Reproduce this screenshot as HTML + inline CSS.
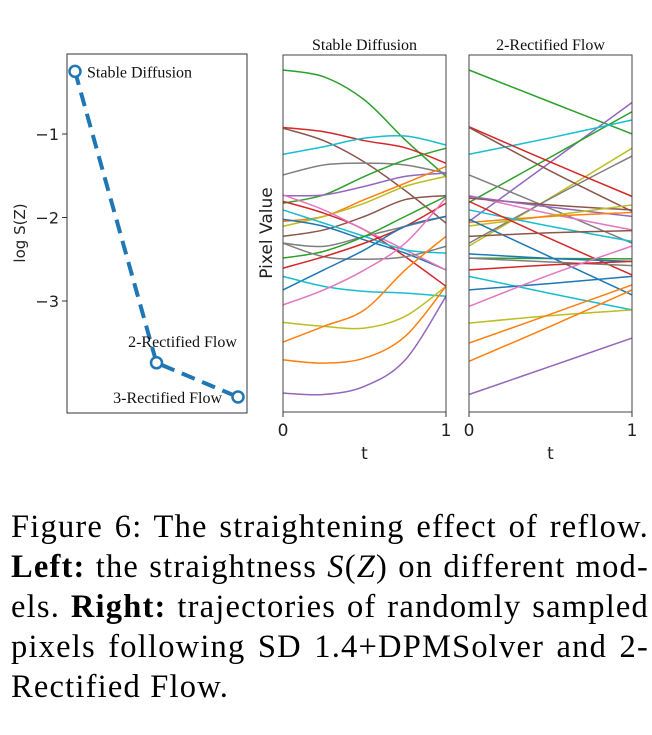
<!DOCTYPE html>
<html><head><meta charset="utf-8"><style>
body{margin:0;background:#fff;width:652px;height:735px;overflow:hidden;position:relative}
.cap{position:absolute;left:11px;width:638px;font-family:"Liberation Serif",serif;font-size:32.5px;letter-spacing:1.2px;color:#000;text-align:justify;text-align-last:justify;white-space:nowrap;line-height:40px}
.cap.last{text-align-last:left}
</style></head><body>
<svg width="652" height="480" style="position:absolute;left:0;top:0" id="fig"></svg>
<div class="cap" style="top:507px">Figure 6: The straightening effect of reflow.</div>
<div class="cap" style="top:547px"><b>Left:</b> the straightness <i>S</i>(<i>Z</i>) on different mod-</div>
<div class="cap" style="top:587px">els. <b>Right:</b> trajectories of randomly sampled</div>
<div class="cap" style="top:627px">pixels following SD 1.4+DPMSolver and 2-</div>
<div class="cap last" style="top:667px">Rectified Flow.</div>
<script>
const models=["Stable Diffusion","2-Rectified Flow","3-Rectified Flow"];
const logS=[-0.25,-3.74,-4.15];
const yTicks=[-1,-2,-3];
const tab=["#1f77b4","#ff7f0e","#2ca02c","#d62728","#9467bd","#8c564b","#e377c2","#7f7f7f","#bcbd22","#17becf"];
// Stable Diffusion trajectories: color index + values at evenly spaced t
const sdColors=[2,3,5,9,7,2,4,1,8,5,7,0,3,6,9,2,7,3,0,9,6,8,1,1,4];
const sdValues=[
[95.8,93.9,87.4,76.2,66.0],[79.7,78.5,76,74,69.7],[79.5,76,70,62,52.9],[72.2,74.3,76.7,77.3,74.8],
[66.4,69.2,69.7,69.2,66.9],[58.5,60.8,66,70.6,73.9],[60.6,60.8,63.2,66,66.9],[53.4,54.8,59.5,64.1,68.8],
[52,54.8,58.5,63.2,66],[49.2,51,54.8,59.5,60.6],[47.3,46.4,49.2,52,54.8],[54,52,48.2,44.5,39.8],
[59,55.7,51,43.5,35.2],[60.8,56.6,51,45.4,39.8],[56.6,52.9,49.2,45.4,44.5],[43.1,45,49.2,54.8,60.4],
[47.3,43.5,42.8,43.5,46.4],[40.3,43.5,47.3,52,58.5],[34.2,39.8,45.4,52,54.8],[38,35.2,33.8,33.3,32.4],
[30,34.2,39.8,47.3,60],[25.1,24,23.5,26.8,35.2],[19.6,24,28.6,39.8,49.2],[14.6,13.7,15.1,21.2,35.2],[5.3,4.9,7.2,14.6,32.4]];
// 2-Rectified Flow trajectories
const rfColors=[2,4,2,9,8,7,7,3,5,6,5,4,8,1,9,3,0,5,2,0,7,3,9,0,6,8,1,1,4];
const rfValues=[
[95.8,86.8,77.9],[53.4,70,86.7],[58.7,71.4,84.1],[72.2,76.8,81.8],[46.5,60,73.9],[66.4,57,47.3],[47.3,59.8,71.7],
[79.9,70,60.4],[79.7,67.5,56.2],[60.6,55.5,51],[59.9,58,56.6],[60.4,57.4,54.8],[52.1,55,58],[53.1,54.8,55.9],
[56.6,52,47.8],[59,48.5,38.4],[54,43.4,32.8],[49.2,50.2,50.8],[43.1,43,42.9],[44.3,43,42.2],[43.1,42,41],
[39.8,41.2,42.2],[38,33.2,28.6],[34.2,36,38],[29.6,38.5,46.5],[24.9,27,28.6],[19.3,27.4,35.6],[14.2,24,34.2],[4.9,12.8,20.7]];

const NS="http://www.w3.org/2000/svg";
const svg=document.getElementById('fig');
function mk(tag,attrs,parent){const e=document.createElementNS(NS,tag);for(const k in attrs)e.setAttribute(k,attrs[k]);(parent||svg).appendChild(e);return e;}
function txt(s,attrs,parent){const e=mk('text',attrs,parent);e.textContent=s;return e;}

// ---- left panel
const L={x0:67,x1:247,y0:54,y1:413};
const lx=i=>75+i*81.5;
const ly=v=>134+(-1-v)*83.5;
const lg=mk('g',{});


mk('rect',{x:L.x0,y:L.y0,width:L.x1-L.x0,height:L.y1-L.y0,fill:'none',stroke:'#333','stroke-width':1},lg);
yTicks.forEach(v=>{
  const y=ly(v);
  const t=mk('line',{x1:L.x0-5,x2:L.x0,y1:y,y2:y,stroke:'#333'},lg);
  
  
  const l=txt('\u2212'+Math.abs(v),{x:L.x0-8,y:y+6,'text-anchor':'end','font-family':'DejaVu Sans,sans-serif','font-size':16,fill:'#222'},lg);
  
  
});
const yt=txt('log S(Z)',{x:0,y:0,transform:'translate(25,233) rotate(-90)','text-anchor':'middle','font-family':'DejaVu Sans,sans-serif','font-size':15,fill:'#222'},lg);


const pl=mk('polyline',{points:logS.map((v,i)=>lx(i)+','+ly(v)).join(' '),fill:'none',stroke:'#1f77b4','stroke-width':4,'stroke-dasharray':'14 8'},lg);


const labelPos=[[12,6,'start'],[-4,-16,'middle'],[-16,6,'end']];
logS.forEach((v,i)=>{
  const c=mk('circle',{cx:lx(i),cy:ly(v),r:5.5,fill:'#fff',stroke:'#1f77b4','stroke-width':2.5},lg);
  
  
  const p=labelPos[i];
  const t=txt(models[i],{x:lx(i)+p[0]+(i==1?30:0),y:ly(v)+p[1],'text-anchor':p[2],'font-family':'Liberation Serif,serif','font-size':16,fill:'#111'},lg);
  
  
});

// ---- trajectory panels
function curve(pts){
  let d='M'+pts[0][0]+','+pts[0][1];
  for(let i=0;i<pts.length-1;i++){
    const p0=pts[Math.max(0,i-1)],p1=pts[i],p2=pts[i+1],p3=pts[Math.min(pts.length-1,i+2)];
    const c1=[p1[0]+(p2[0]-p0[0])/6,p1[1]+(p2[1]-p0[1])/6],c2=[p2[0]-(p3[0]-p1[0])/6,p2[1]-(p3[1]-p1[1])/6];
    d+=' C'+c1.join(',')+' '+c2.join(',')+' '+p2.join(',');
  }
  return d;
}
function panel(name,title,x0,x1,colors,values){
  const y0=55,y1=412;
  const px=t=>x0+t*(x1-x0);
  const py=v=>y1-(v/100)*(y1-y0);
  const g=mk('g',{});
  
  
  values.forEach((vals,k)=>{
    const pts=vals.map((v,i)=>[px(i/(vals.length-1)),py(v)]);
    const p=mk('path',{d:curve(pts),fill:'none',stroke:tab[colors[k]],'stroke-width':1.5},g);
    
    
  });
  mk('rect',{x:x0,y:y0,width:x1-x0,height:y1-y0,fill:'none',stroke:'#444','stroke-width':1},g);
  const tt=txt(title,{x:(x0+x1)/2,y:y0-5,'text-anchor':'middle','font-family':'Liberation Serif,serif','font-size':16,fill:'#111'},g);
  
  
  [0,1].forEach(t=>{
    mk('line',{x1:px(t),x2:px(t),y1:y1,y2:y1+5,stroke:'#333'},g);
    const l=txt(String(t),{x:px(t),y:y1+24,'text-anchor':'middle','font-family':'DejaVu Sans,sans-serif','font-size':17,fill:'#222'},g);
    
    
  });
  const xt=txt('t',{x:(x0+x1)/2,y:y1+47,'text-anchor':'middle','font-family':'DejaVu Sans,sans-serif','font-size':17,fill:'#222'},g);
  
  
}
panel('stable-diffusion-panel','Stable Diffusion',283,446,sdColors,sdValues);
panel('rectified-flow-panel','2-Rectified Flow',469,632,rfColors,rfValues);
const pv=txt('Pixel Value',{x:0,y:0,transform:'translate(272,233) rotate(-90)','text-anchor':'middle','font-family':'DejaVu Sans,sans-serif','font-size':17,fill:'#222'});


</script>
</body></html>
